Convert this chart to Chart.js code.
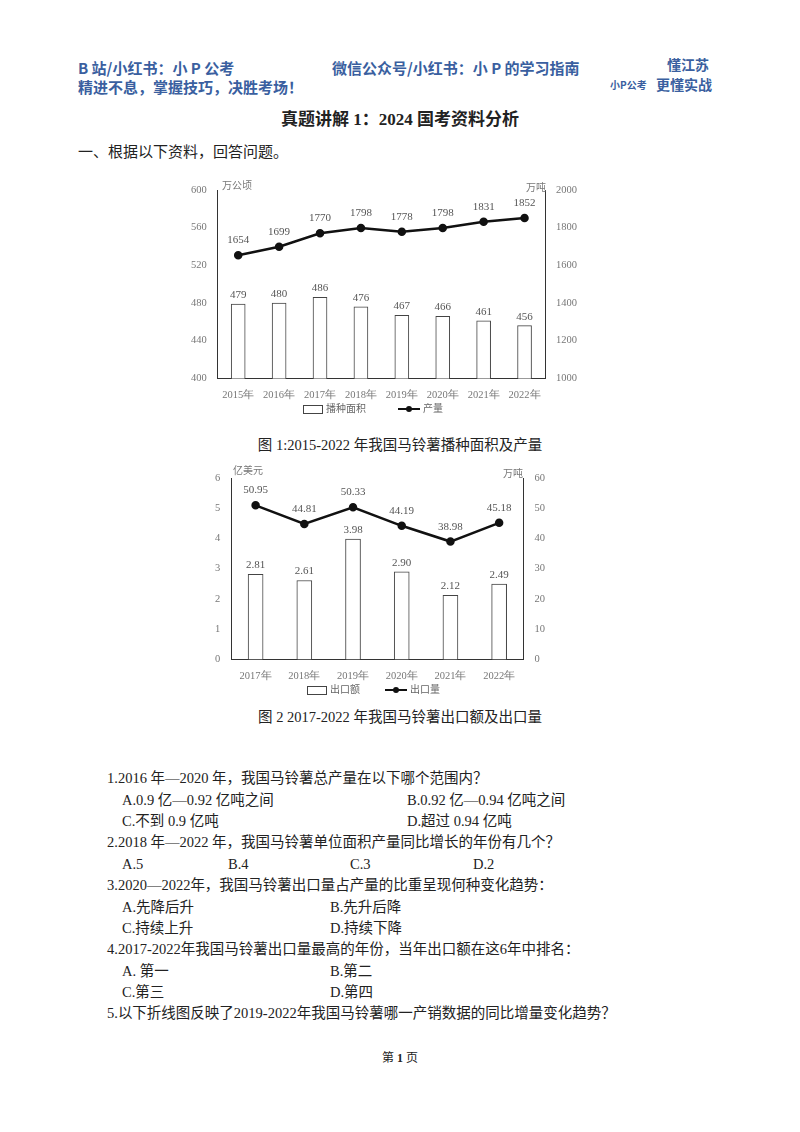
<!DOCTYPE html>
<html><head><meta charset="utf-8">
<script src="https://cdn.jsdelivr.net/npm/chart.js@4"></script>
<style>
body{margin:0;width:800px;height:1132px;background:#fff;position:relative;font-family:"Noto Sans CJK SC",sans-serif;color:#222}
.t{position:absolute;white-space:nowrap;line-height:1}
.hd{color:#3a5fa0;font-weight:bold;font-size:15px}
.q{font-size:14.5px;font-family:"Liberation Serif","Noto Sans CJK SC",serif}
.ax{font-family:"Liberation Serif","Noto Sans CJK SC",serif;font-size:10px;color:#777}
.lg{position:absolute;font-size:10px;color:#666;font-family:"Noto Sans CJK SC";line-height:1}
.box{display:inline-block;width:18px;height:7px;border:1px solid #444;vertical-align:middle;margin-right:3px}
.ln{display:inline-block;width:22px;height:2px;background:#111;vertical-align:middle;margin-right:3px;position:relative}
.ln:after{content:"";position:absolute;left:8px;top:-2px;width:6px;height:6px;border-radius:3px;background:#111}
</style></head><body>
<div class="t hd" style="left:78px;top:60px">B 站/小红书：小 P 公考</div>
<div class="t hd" style="left:332px;top:60px">微信公众号/小红书：小 P 的学习指南</div>
<div class="t hd" style="left:78px;top:79px">精进不息，掌握技巧，决胜考场！</div>
<div class="t hd" style="left:667px;top:57px;font-size:14px">懂江苏</div>
<div class="t hd" style="left:656px;top:77px;font-size:14px">更懂实战</div>
<div class="t hd" style="left:610px;top:80px;font-size:10px">小P公考</div>
<div class="t" style="left:0;width:800px;text-align:center;top:111px;font-size:17px;font-weight:bold;font-family:'Liberation Serif','Noto Sans CJK SC'">真题讲解 1：2024 国考资料分析</div>
<div class="t q" style="left:78px;top:145px;font-size:15px">一、根据以下资料，回答问题。</div>

<div style="position:absolute;left:188px;top:180px;width:392px;height:225px"><canvas id="c1"></canvas></div>
<div class="t ax" style="left:222px;top:181px">万公顷</div>
<div class="t ax" style="left:526px;top:183px">万吨</div>
<div class="lg" style="left:303px;top:403px"><span class="box"></span>播种面积</div>
<div class="lg" style="left:398px;top:403px"><span class="ln"></span>产量</div>
<div class="t q" style="left:0;width:800px;text-align:center;top:438px">图 1:2015-2022 年我国马铃薯播种面积及产量</div>

<div style="position:absolute;left:212px;top:468px;width:336px;height:218px"><canvas id="c2"></canvas></div>
<div class="t ax" style="left:233px;top:466px">亿美元</div>
<div class="t ax" style="left:503px;top:469px">万吨</div>
<div class="lg" style="left:307px;top:684px"><span class="box"></span>出口额</div>
<div class="lg" style="left:385px;top:684px"><span class="ln"></span>出口量</div>
<div class="t q" style="left:0;width:800px;text-align:center;top:710px">图 2 2017-2022 年我国马铃薯出口额及出口量</div>

<div class="t q" style="left:107px;top:771px">1.2016 年—2020 年，我国马铃薯总产量在以下哪个范围内？</div>
<div class="t q" style="left:122px;top:793px">A.0.9 亿—0.92 亿吨之间</div>
<div class="t q" style="left:407px;top:793px">B.0.92 亿—0.94 亿吨之间</div>
<div class="t q" style="left:122px;top:814px">C.不到 0.9 亿吨</div>
<div class="t q" style="left:407px;top:814px">D.超过 0.94 亿吨</div>
<div class="t q" style="left:107px;top:835px">2.2018 年—2022 年，我国马铃薯单位面积产量同比增长的年份有几个？</div>
<div class="t q" style="left:122px;top:857px">A.5</div>
<div class="t q" style="left:228px;top:857px">B.4</div>
<div class="t q" style="left:350px;top:857px">C.3</div>
<div class="t q" style="left:473px;top:857px">D.2</div>
<div class="t q" style="left:107px;top:878px">3.2020—2022年，我国马铃薯出口量占产量的比重呈现何种变化趋势：</div>
<div class="t q" style="left:122px;top:900px">A.先降后升</div>
<div class="t q" style="left:330px;top:900px">B.先升后降</div>
<div class="t q" style="left:122px;top:921px">C.持续上升</div>
<div class="t q" style="left:330px;top:921px">D.持续下降</div>
<div class="t q" style="left:107px;top:942px">4.2017-2022年我国马铃薯出口量最高的年份，当年出口额在这6年中排名：</div>
<div class="t q" style="left:122px;top:964px">A. 第一</div>
<div class="t q" style="left:330px;top:964px">B.第二</div>
<div class="t q" style="left:122px;top:985px">C.第三</div>
<div class="t q" style="left:330px;top:985px">D.第四</div>
<div class="t q" style="left:107px;top:1006px">5.以下折线图反映了2019-2022年我国马铃薯哪一产销数据的同比增量变化趋势？</div>
<div class="t q" style="left:0;width:800px;text-align:center;top:1052px;font-size:12px">第 <b>1</b> 页</div>

<script>
var years1 = ['2015年','2016年','2017年','2018年','2019年','2020年','2021年','2022年'];
var area = [479,480,486,476,467,466,461,456];
var output = [1654,1699,1770,1798,1778,1798,1831,1852];
var years2 = ['2017年','2018年','2019年','2020年','2021年','2022年'];
var exportValue = [2.81,2.61,3.98,2.90,2.12,2.49];
var exportVolume = [50.95,44.81,50.33,44.19,38.98,45.18];

var labelPlugin = {
	id: 'vals',
	afterDatasetsDraw: function(chart) {
		var ctx = chart.ctx;
		ctx.save();
		ctx.font = '11px "Liberation Serif"';
		ctx.fillStyle = '#555';
		ctx.textAlign = 'center';
		chart.data.datasets.forEach(function(ds, i) {
			var meta = chart.getDatasetMeta(i);
			meta.data.forEach(function(el, j) {
				var off = ds.type == 'line' ? 12 : 6;
				ctx.fillText(ds.fmt ? ds.data[j].toFixed(2) : ds.data[j], el.x, el.y - off);
			});
		});
		ctx.restore();
	}
};

function makeOpts(l, r, pad) {
	function tk(step) {
		return {stepSize:step, color:'#777', font:{family:'Liberation Serif', size:10.5}, callback:function(v){ return v; }};
	}
	return {
		responsive:true, maintainAspectRatio:false, animation:false,
		layout:{padding:pad},
		plugins:{legend:{display:false}, tooltip:{enabled:false}},
		scales:{
			x:{grid:{display:false}, border:{color:'#333'}, ticks:{color:'#777', font:{family:'Liberation Serif', size:10.5}}},
			y:{position:'left', min:l[0], max:l[1], ticks:tk(l[2]), grid:{display:false}, border:{color:'#333'}},
			y1:{position:'right', min:r[0], max:r[1], ticks:tk(r[2]), grid:{display:false}, border:{color:'#333'}}
		}
	};
}

new Chart(document.getElementById('c1'), {
	type:'bar',
	data:{labels:years1, datasets:[
		{type:'line', data:output, yAxisID:'y1', borderColor:'#111', backgroundColor:'#111', borderWidth:2.5, pointRadius:3, tension:0},
		{data:area, yAxisID:'y', backgroundColor:'#fff', borderColor:'#444', borderWidth:1, barThickness:14}
	]},
	options:makeOpts([400,600,40],[1000,2000,200],{top:10}),
	plugins:[labelPlugin]
});

new Chart(document.getElementById('c2'), {
	type:'bar',
	data:{labels:years2, datasets:[
		{type:'line', data:exportVolume, yAxisID:'y1', borderColor:'#111', backgroundColor:'#111', borderWidth:2.5, pointRadius:3, tension:0, fmt:true},
		{data:exportValue, yAxisID:'y', backgroundColor:'#fff', borderColor:'#444', borderWidth:1, barThickness:15, fmt:true}
	]},
	options:makeOpts([0,6,1],[0,60,10],{top:10}),
	plugins:[labelPlugin]
});
</script>
</body></html>
